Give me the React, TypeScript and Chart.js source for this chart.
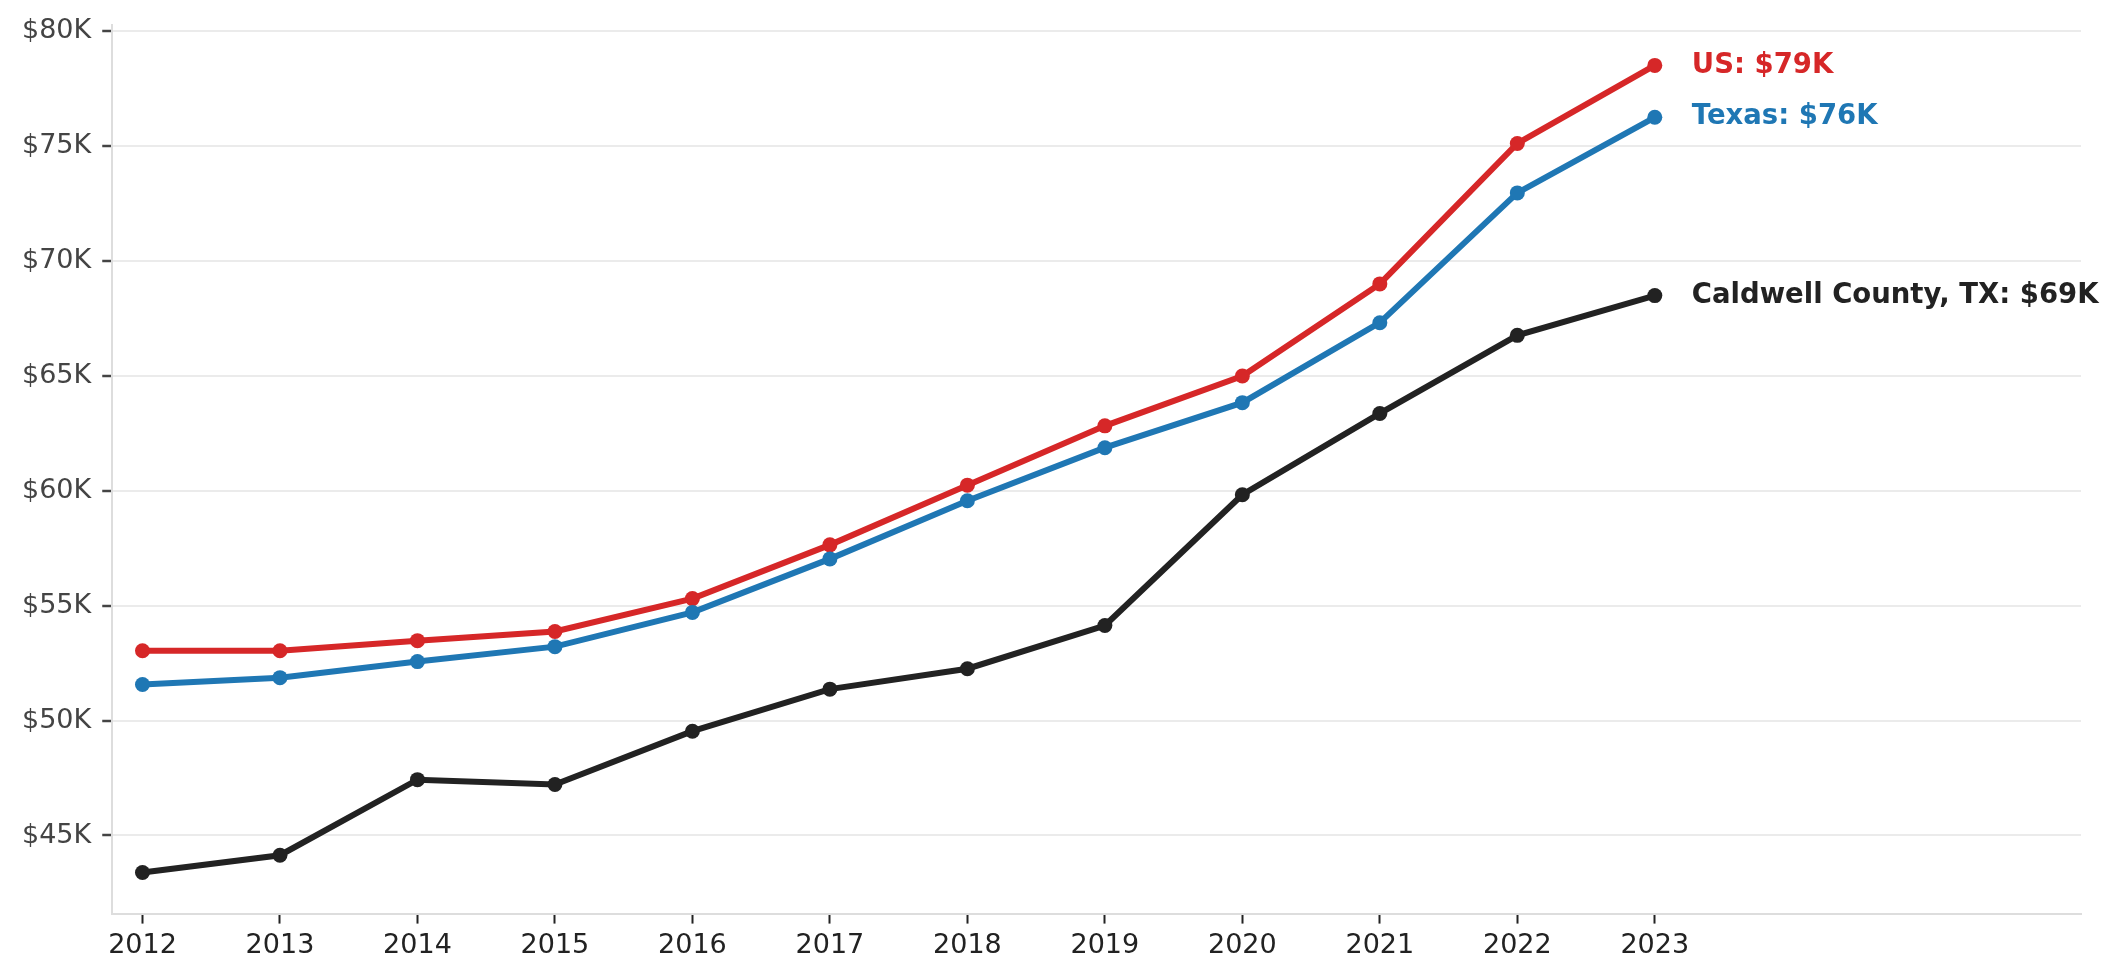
import React, { useEffect, useRef } from 'react';
import { Chart, registerables } from 'chart.js';

Chart.register(...registerables);

const years = [2012, 2013, 2014, 2015, 2016, 2017, 2018, 2019, 2020, 2021, 2022, 2023];
const usIncome = [53040, 53040, 53480, 53880, 55310, 57650, 60250, 62830, 65000, 69010, 75120, 78520];
const texasIncome = [51570, 51870, 52570, 53220, 54710, 57040, 59570, 61880, 63840, 67320, 72970, 76260];
const caldwellIncome = [43390, 44140, 47430, 47220, 49540, 51370, 52260, 54140, 59830, 63370, 66770, 68500];
const seriesNames = ['Caldwell County, TX', 'Texas', 'US'];
const endLabels = ['Caldwell County, TX: $69K', 'Texas: $76K', 'US: $79K'];
const seriesColors = ['#222222', '#1f77b4', '#d62728'];
const yTicks = [45000, 50000, 55000, 60000, 65000, 70000, 75000, 80000];

const FONT = "'DejaVu Sans', sans-serif";

const endLabelPlugin = {
  id: 'endLabels',
  afterDatasetsDraw: (chart: any) => {
    const { ctx } = chart;
    ctx.save();
    ctx.font = `bold 27.5px ${FONT}`;
    ctx.textAlign = 'left';
    ctx.textBaseline = 'middle';
    chart.data.datasets.forEach((ds: any, i: number) => {
      const meta = chart.getDatasetMeta(i);
      const pt = meta.data[meta.data.length - 1];
      if (!pt) return;
      ctx.fillStyle = ds.borderColor;
      ctx.fillText(endLabels[i], pt.x + 37, pt.y);
    });
    ctx.restore();
  },
};

const App: React.FC = () => {
  const canvasRef = useRef<HTMLCanvasElement>(null);
  const chartRef = useRef<any>(null);

  useEffect(() => {
    document.body.style.margin = '0';
    if (!canvasRef.current) return;
    const seriesValues = [caldwellIncome, texasIncome, usIncome];

    chartRef.current = new Chart(canvasRef.current, {
      type: 'line',
      data: {
        datasets: seriesValues.map((vals, i) => ({
          label: seriesNames[i],
          data: vals.map((v, j) => ({ x: years[j], y: v })),
          borderColor: seriesColors[i],
          backgroundColor: seriesColors[i],
          borderWidth: 6,
          pointRadius: 7.5,
          pointBorderWidth: 0,
          pointHoverRadius: 7.5,
          tension: 0,
          clip: false as any,
        })),
      },
      options: {
        animation: false,
        responsive: false,
        devicePixelRatio: 1,
        layout: { padding: { left: 11, right: 42, top: 7, bottom: 12 } },
        plugins: {
          legend: { display: false },
          tooltip: { enabled: false },
        },
        scales: {
          x: {
            type: 'linear',
            min: 2011.78,
            max: 2026.1,
            afterBuildTicks: (axis: any) => {
              axis.ticks = years.map(y => ({ value: y }));
            },
            ticks: {
              color: '#222222',
              font: { family: FONT, size: 27 },
              padding: 6,
              maxRotation: 0,
              autoSkip: false,
              callback: (v: any) => String(v),
            },
            grid: {
              drawOnChartArea: false,
              drawTicks: true,
              tickLength: 10,
              tickWidth: 2,
              tickColor: '#222222',
            },
            border: { color: '#dddddd', width: 2 },
          },
          y: {
            type: 'linear',
            min: 41600,
            max: 80300,
            afterBuildTicks: (axis: any) => {
              axis.ticks = yTicks.map(v => ({ value: v }));
            },
            ticks: {
              color: '#444444',
              font: { family: FONT, size: 27, lineHeight: 1.0 },
              padding: 11,
              callback: (v: any) => `$${Math.round(Number(v) / 1000)}K`,
            },
            grid: {
              color: '#ebebeb',
              lineWidth: 2,
              drawTicks: true,
              tickLength: 10,
              tickWidth: 2.5,
              tickColor: '#444444',
            },
            border: { color: '#dddddd', width: 2 },
          },
        },
      },
      plugins: [endLabelPlugin],
    });

    return () => {
      if (chartRef.current) { chartRef.current.destroy(); chartRef.current = null; }
    };
  }, []);

  return (
    <div style={{ position: 'relative', width: '2123px', height: '980px', background: '#ffffff' }}>
      <canvas ref={canvasRef} width={2123} height={980} style={{ width: '2123px', height: '980px' }}></canvas>
    </div>
  );
};

export default App;
